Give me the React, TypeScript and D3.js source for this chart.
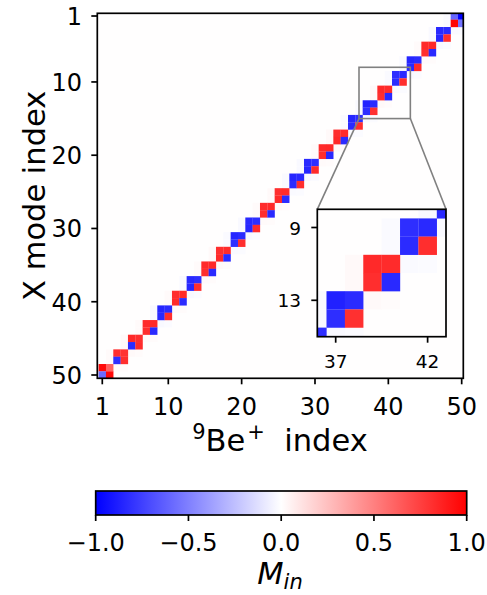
import React from 'react';
import * as d3 from 'd3';

// ---- data ----
// 25 diagonal 2x2 blocks: block j covers columns 2j-1..2j and rows 51-2j..52-2j
const blockTL = [0.96, 0.82, 0.84, 0.83, -0.85, 0.82, -0.84, 0.83, 0.82, -0.85, -0.84, 0.83, 0.82, -0.85, -0.84, 0.83, 0.82, -0.85, -0.87, 0.84, -0.82, -0.85, 0.83, -0.84, -0.6];
const blockTR = [0.62, 0.8, 0.82, 0.84, -0.83, 0.84, -0.82, 0.84, 0.83, -0.83, -0.82, 0.84, 0.83, -0.84, -0.82, 0.84, 0.83, -0.82, -0.83, 0.83, -0.84, -0.83, 0.84, -0.83, -1.0];
const blockBL = [-0.58, -0.82, -0.83, 0.82, -0.84, 0.83, -0.85, 0.82, 0.84, -0.82, -0.85, 0.82, 0.84, -0.83, -0.85, 0.82, 0.84, -0.84, -0.82, 0.82, -0.83, -0.84, 0.82, -0.85, 0.98];
const blockBR = [0.97, 0.82, 0.83, -0.84, 0.82, -0.83, 0.82, -0.84, -0.83, 0.82, 0.83, -0.84, -0.83, 0.82, 0.83, -0.84, -0.83, 0.82, 0.81, -0.84, 0.82, 0.83, -0.84, 0.82, -0.55];
// faint coupling next to each block (left column and row below the block)
const halo = [0.025, 0.02, 0.025, 0.02, -0.025, 0.02, -0.025, 0.02, 0.025, -0.02, -0.025, 0.02, 0.025, -0.02, -0.025, 0.02, 0.025, -0.02, -0.025, 0.025, -0.02, -0.025, 0.02, -0.025, -0.02];

const xTicks = [1, 10, 20, 30, 40, 50];
const yTicks = [1, 10, 20, 30, 40, 50];
const insetXTicks = [37, 42];
const insetYTicks = [9, 13];
const cbTicks = [-1.0, -0.5, 0.0, 0.5, 1.0];
const zoomX = [36, 43];
const zoomY = [8, 15];

const FONT = "'DejaVu Sans', sans-serif";

function bwr(v: number): string {
  const t = Math.max(-1, Math.min(1, v));
  if (t < 0) {
    const c = Math.round(255 * (1 + t));
    return `rgb(${c},${c},255)`;
  }
  const c = Math.round(255 * (1 - t));
  return `rgb(255,${c},${c})`;
}

type Cell = { r: number; c: number; v: number };

function buildCells(): Cell[] {
  const m = new Map<string, number>();
  const set = (r: number, c: number, v: number) => {
    if (r < 1 || r > 50 || c < 1 || c > 50) return;
    m.set(`${r},${c}`, v);
  };
  for (let j = 1; j <= 25; j++) {
    const c0 = 2 * j - 1;
    const r0 = 51 - 2 * j;
    const h = halo[j - 1];
    set(r0, c0 - 1, h);
    set(r0 + 1, c0 - 1, h);
    set(r0 + 2, c0, h);
    set(r0 + 2, c0 + 1, h * 0.7);
  }
  for (let j = 1; j <= 25; j++) {
    const c0 = 2 * j - 1;
    const r0 = 51 - 2 * j;
    set(r0, c0, blockTL[j - 1]);
    set(r0, c0 + 1, blockTR[j - 1]);
    set(r0 + 1, c0, blockBL[j - 1]);
    set(r0 + 1, c0 + 1, blockBR[j - 1]);
  }
  const out: Cell[] = [];
  m.forEach((v, k) => {
    const [r, c] = k.split(',').map(Number);
    out.push({ r, c, v });
  });
  return out;
}

const cells = buildCells();

export default function App() {
  const W = 487, H = 595;
  const ax = { l: 97.3, r: 463.3, t: 13.3, b: 378.3 };
  const xs = d3.scaleLinear().domain([0.32, 50.22]).range([ax.l, ax.r]);
  const ys = d3.scaleLinear().domain([0.63, 50.45]).range([ax.t, ax.b]);

  const ins = { l: 317.3, r: 446, t: 209.3, b: 336.7 };
  const xi = d3.scaleLinear().domain(zoomX).range([ins.l, ins.r]);
  const yi = d3.scaleLinear().domain(zoomY).range([ins.t, ins.b]);

  const cb = { l: 95.7, r: 466.7, t: 491, b: 515 };
  const cs = d3.scaleLinear().domain([-1, 1]).range([cb.l, cb.r]);
  const stops = d3.range(0, 1.0001, 0.05);

  const spine = 1.7;
  const tickLen = 6;
  const tickFont = 24;
  const labelFont = 30.5;
  const supFont = 21;

  const drawCells = (x: d3.ScaleLinear<number, number>, y: d3.ScaleLinear<number, number>) =>
    cells.map((d, i) => {
      const x0 = x(d.c - 0.5), x1 = x(d.c + 0.5);
      const y0 = y(d.r - 0.5), y1 = y(d.r + 0.5);
      return (
        <rect key={i} x={x0} y={y0} width={x1 - x0 + 0.15} height={y1 - y0 + 0.15} fill={bwr(d.v)} />
      );
    });

  return (
    <svg width={W} height={H} style={{ position: 'absolute', left: 0, top: 0, fontFamily: FONT }}>
      <defs>
        <clipPath id="mainClip">
          <rect x={ax.l} y={ax.t} width={ax.r - ax.l} height={ax.b - ax.t} />
        </clipPath>
        <clipPath id="insClip">
          <rect x={ins.l} y={ins.t} width={ins.r - ins.l} height={ins.b - ins.t} />
        </clipPath>
        <linearGradient id="bwrGrad" x1="0" x2="1" y1="0" y2="0">
          {stops.map((s, i) => (
            <stop key={i} offset={s} stopColor={bwr(s * 2 - 1)} />
          ))}
        </linearGradient>
      </defs>
      <rect x={0} y={0} width={W} height={H} fill="#ffffff" />

      {/* main heatmap */}
      <rect x={ax.l} y={ax.t} width={ax.r - ax.l} height={ax.b - ax.t} fill="#fffefe" />
      <g clipPath="url(#mainClip)">{drawCells(xs, ys)}</g>
      <rect x={ax.l} y={ax.t} width={ax.r - ax.l} height={ax.b - ax.t} fill="none" stroke="#000" strokeWidth={spine} />

      {/* main ticks */}
      {xTicks.map((t) => (
        <g key={'xt' + t}>
          <line x1={xs(t)} x2={xs(t)} y1={ax.b} y2={ax.b + tickLen} stroke="#000" strokeWidth={spine} />
          <text x={xs(t)} y={415} fontSize={tickFont} textAnchor="middle" fill="#000">{t}</text>
        </g>
      ))}
      {yTicks.map((t) => (
        <g key={'yt' + t}>
          <line x1={ax.l - tickLen} x2={ax.l} y1={ys(t)} y2={ys(t)} stroke="#000" strokeWidth={spine} />
          <text x={82} y={ys(t) + 9} fontSize={tickFont} textAnchor="end" fill="#000">{t}</text>
        </g>
      ))}

      {/* axis labels */}
      <text x={280} y={451} fontSize={labelFont} textAnchor="middle" fill="#000" style={{ whiteSpace: 'pre' }}>
        <tspan fontSize={supFont} dy={-12}>9</tspan>
        <tspan fontSize={labelFont} dy={12}>Be</tspan>
        <tspan fontSize={supFont} dy={-12} dx={2}>+</tspan>
        <tspan fontSize={labelFont} dy={12}>{'  index'}</tspan>
      </text>
      <text transform={`translate(45,${(ax.t + ax.b) / 2}) rotate(-90)`} fontSize={labelFont} textAnchor="middle" fill="#000">
        X mode index
      </text>

      {/* zoom rectangle + connectors */}
      <rect x={xs(zoomX[0])} y={ys(zoomY[0])} width={xs(zoomX[1]) - xs(zoomX[0])} height={ys(zoomY[1]) - ys(zoomY[0])}
        fill="none" stroke="#808080" strokeWidth={1.6} />
      <line x1={xs(zoomX[0])} y1={ys(zoomY[1])} x2={ins.l} y2={ins.t} stroke="#808080" strokeWidth={1.6} />
      <line x1={xs(zoomX[1])} y1={ys(zoomY[1])} x2={ins.r} y2={ins.t} stroke="#808080" strokeWidth={1.6} />

      {/* inset */}
      <rect x={ins.l} y={ins.t} width={ins.r - ins.l} height={ins.b - ins.t} fill="#fffefe" />
      <g clipPath="url(#insClip)">{drawCells(xi, yi)}</g>
      <rect x={ins.l} y={ins.t} width={ins.r - ins.l} height={ins.b - ins.t} fill="none" stroke="#000" strokeWidth={spine} />
      {insetXTicks.map((t) => (
        <g key={'ixt' + t}>
          <line x1={xi(t)} x2={xi(t)} y1={ins.b} y2={ins.b + tickLen} stroke="#000" strokeWidth={spine} />
          <text x={xi(t)} y={368} fontSize={18.5} textAnchor="middle" fill="#000">{t}</text>
        </g>
      ))}
      {insetYTicks.map((t) => (
        <g key={'iyt' + t}>
          <line x1={ins.l - tickLen} x2={ins.l} y1={yi(t)} y2={yi(t)} stroke="#000" strokeWidth={spine} />
          <text x={301} y={yi(t) + 7} fontSize={18.5} textAnchor="end" fill="#000">{t}</text>
        </g>
      ))}

      {/* colorbar */}
      <rect x={cb.l} y={cb.t} width={cb.r - cb.l} height={cb.b - cb.t} fill="url(#bwrGrad)" stroke="#000" strokeWidth={spine} />
      {cbTicks.map((t) => (
        <g key={'cb' + t}>
          <line x1={cs(t)} x2={cs(t)} y1={cb.b} y2={cb.b + tickLen} stroke="#000" strokeWidth={spine} />
          <text x={cs(t)} y={551} fontSize={tickFont} textAnchor="middle" fill="#000">
            {t < 0 ? '\u2212' + Math.abs(t).toFixed(1) : t.toFixed(1)}
          </text>
        </g>
      ))}
      <text x={280} y={584} fontSize={labelFont} textAnchor="middle" fill="#000" style={{ whiteSpace: 'pre' }}>
        <tspan fontStyle="italic">M</tspan>
        <tspan fontStyle="italic" fontSize={supFont} dy={5}>in</tspan>
      </text>
    </svg>
  );
}
